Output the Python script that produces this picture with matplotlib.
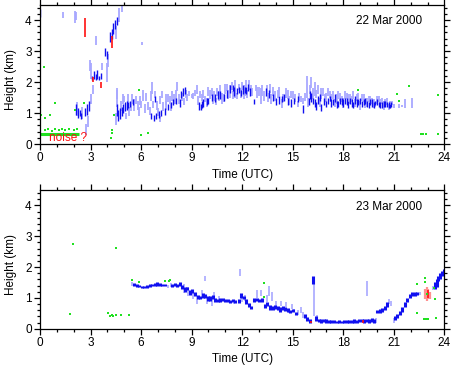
import matplotlib
matplotlib.use("Agg")
import matplotlib.pyplot as plt
from matplotlib.ticker import MultipleLocator

plt.rcParams["font.family"] = ["Liberation Sans", "DejaVu Sans"]
plt.rcParams["font.size"] = 8.5

# Cloud base streaks: (time UTC, lower km, upper km)
mar22_dark = [
    (0.02, 4.1, 4.35),
    (2.15, 0.95, 1.3), (2.25, 0.85, 1.15), (2.35, 0.9, 1.1), (2.45, 0.8, 1.0),
    (2.7, 0.9, 1.15), (2.8, 0.95, 1.3), (2.9, 1.05, 1.4),
    (3.1, 2.05, 2.2), (3.2, 2.1, 2.35), (3.3, 2.05, 2.25), (3.4, 2.1, 2.4),
    (3.5, 2.05, 2.2), (3.6, 2.1, 2.3),
    (3.85, 2.85, 3.1), (3.95, 2.75, 3.0),
    (4.15, 3.3, 3.6), (4.25, 3.4, 3.7), (4.35, 3.55, 3.9), (4.45, 3.7, 4.0),
    (4.6, 3.85, 4.1),
    (4.55, 0.9, 1.3), (4.65, 0.75, 1.1), (4.75, 0.8, 1.15), (4.85, 0.9, 1.2),
    (4.95, 1.0, 1.3), (5.05, 1.05, 1.35), (5.15, 1.1, 1.4), (5.25, 1.15, 1.35),
    (5.35, 1.2, 1.4), (5.5, 1.25, 1.45),
    (6.6, 0.8, 1.0), (6.75, 0.75, 0.95), (6.8, 1.35, 1.55), (6.9, 0.8, 1.0),
    (7.05, 0.85, 1.05), (7.2, 0.9, 1.1), (7.4, 0.95, 1.15), (7.6, 1.1, 1.3),
    (7.8, 1.15, 1.35),
    (7.9, 1.25, 1.45), (8.1, 1.3, 1.5), (8.3, 1.2, 1.45), (8.35, 1.5, 1.7),
    (8.5, 1.55, 1.8), (8.6, 1.6, 1.85),
    (9.45, 1.1, 1.35), (9.55, 1.1, 1.3), (9.6, 1.15, 1.4), (9.7, 1.2, 1.45),
    (9.9, 1.25, 1.5), (10.0, 1.3, 1.5), (10.2, 1.4, 1.6), (10.4, 1.35, 1.6),
    (10.55, 1.45, 1.7), (10.7, 1.45, 1.7), (10.9, 1.4, 1.6), (11.1, 1.5, 1.75),
    (11.3, 1.65, 1.9), (11.45, 1.7, 1.9), (11.5, 1.55, 1.85), (11.7, 1.6, 1.8),
    (11.8, 1.65, 1.85), (11.9, 1.55, 1.75), (12.05, 1.6, 1.9), (12.15, 1.65, 1.85),
    (12.2, 1.6, 1.85), (12.35, 1.7, 1.95), (12.45, 1.55, 1.8), (12.7, 1.3, 1.45),
    (13.4, 1.55, 1.8), (13.6, 1.5, 1.75), (13.8, 1.4, 1.6), (14.0, 1.25, 1.5),
    (14.2, 1.3, 1.55), (14.35, 1.35, 1.55), (14.5, 1.4, 1.6), (14.7, 1.25, 1.5),
    (14.9, 1.2, 1.45), (15.1, 1.3, 1.5), (15.3, 1.35, 1.55), (15.6, 1.0, 1.25),
    (15.95, 1.25, 1.5), (16.0, 1.45, 1.7), (16.1, 1.35, 1.65), (16.2, 1.3, 1.5),
    (16.3, 1.2, 1.45), (16.4, 1.1, 1.35), (16.5, 1.3, 1.55), (16.6, 1.4, 1.6),
    (16.7, 1.05, 1.3), (16.85, 1.25, 1.5), (17.0, 1.2, 1.4), (17.1, 1.3, 1.5),
    (17.2, 1.4, 1.55), (17.3, 1.2, 1.45), (17.4, 1.25, 1.45), (17.5, 1.35, 1.6),
    (17.6, 1.15, 1.4), (17.7, 1.2, 1.4), (17.8, 1.3, 1.5), (17.9, 1.25, 1.5),
    (18.0, 1.2, 1.45), (18.1, 1.3, 1.5), (18.2, 1.25, 1.5), (18.3, 1.15, 1.4),
    (18.4, 1.3, 1.5), (18.5, 1.2, 1.45), (18.6, 1.15, 1.35), (18.7, 1.3, 1.55),
    (18.8, 1.2, 1.45), (18.9, 1.25, 1.45), (19.0, 1.3, 1.5), (19.1, 1.2, 1.4),
    (19.2, 1.25, 1.45), (19.3, 1.3, 1.5), (19.4, 1.2, 1.4), (19.5, 1.15, 1.35),
    (19.6, 1.25, 1.45), (19.7, 1.2, 1.45), (19.8, 1.15, 1.35), (19.9, 1.25, 1.4),
    (20.0, 1.25, 1.45), (20.1, 1.2, 1.35), (20.2, 1.15, 1.35), (20.3, 1.15, 1.35),
    (20.4, 1.2, 1.4), (20.5, 1.2, 1.4), (20.6, 1.2, 1.35), (20.7, 1.15, 1.35),
    (20.8, 1.15, 1.3), (20.85, 1.2, 1.35),
]

mar22_light = [
    (1.35, 4.05, 4.25), (2.05, 3.9, 4.3), (2.15, 4.0, 4.25),
    (3.3, 3.2, 3.5), (3.05, 2.1, 2.6), (2.95, 2.35, 2.7), (3.7, 2.4, 2.6),
    (4.0, 2.0, 2.6), (4.05, 2.5, 2.9),
    (2.2, 0.9, 1.35), (2.5, 0.8, 1.2), (2.75, 0.3, 0.65), (2.85, 0.55, 0.9),
    (3.0, 1.3, 1.6), (3.15, 1.6, 1.9),
    (4.7, 3.95, 4.4), (4.85, 4.25, 4.5), (4.5, 3.4, 3.8), (6.05, 3.2, 3.3),
    (4.5, 0.6, 1.0), (4.55, 1.45, 1.8), (4.6, 1.2, 1.75), (4.8, 1.05, 1.4),
    (4.9, 1.3, 1.6), (5.0, 1.35, 1.55), (5.1, 0.8, 1.0), (5.2, 1.35, 1.6),
    (5.3, 0.9, 1.2), (5.4, 1.05, 1.3), (5.45, 1.3, 1.6), (5.6, 1.05, 1.45),
    (5.7, 1.3, 1.55), (5.8, 1.1, 1.4), (5.85, 0.9, 1.2), (5.95, 1.25, 1.55),
    (6.0, 1.15, 1.4), (6.1, 1.4, 1.75), (6.25, 1.0, 1.3), (6.3, 1.4, 1.65),
    (6.4, 1.1, 1.35), (6.5, 0.95, 1.2), (6.6, 1.4, 1.7), (6.65, 1.6, 2.0),
    (6.7, 1.15, 1.4), (6.85, 1.5, 1.7), (6.95, 1.1, 1.4), (7.0, 0.9, 1.15),
    (7.1, 1.3, 1.55), (7.15, 0.7, 0.9), (7.25, 1.5, 1.7), (7.3, 1.05, 1.35),
    (7.45, 1.1, 1.4), (7.5, 1.25, 1.6), (7.6, 1.35, 1.6), (7.7, 1.3, 1.55),
    (7.75, 1.05, 1.3), (7.85, 1.4, 1.7), (7.95, 1.3, 1.6),
    (8.0, 1.3, 1.5), (8.05, 1.45, 1.75), (8.15, 1.7, 2.0), (8.25, 1.3, 1.6),
    (8.4, 1.4, 1.65), (8.55, 1.25, 1.5), (8.65, 1.5, 1.75), (8.75, 1.4, 1.6),
    (8.85, 1.55, 1.7), (9.0, 1.5, 1.6), (9.1, 1.45, 1.65), (9.2, 1.55, 1.75),
    (9.3, 1.6, 1.9), (9.4, 1.25, 1.55), (9.5, 1.5, 1.7), (9.6, 1.4, 1.6),
    (9.7, 1.5, 1.75), (9.8, 1.35, 1.55), (9.9, 1.2, 1.5), (10.0, 1.55, 1.85),
    (10.1, 1.45, 1.75), (10.2, 1.55, 1.8), (10.25, 1.3, 1.55), (10.35, 1.4, 1.7),
    (10.45, 1.25, 1.5), (10.5, 1.55, 1.8), (10.6, 1.4, 1.7), (10.7, 1.6, 1.9),
    (10.8, 1.3, 1.65), (10.95, 1.35, 1.6), (11.0, 1.6, 1.95), (11.1, 1.7, 1.95),
    (11.15, 1.45, 1.75), (11.25, 1.5, 1.9), (11.4, 1.75, 2.0), (11.45, 1.45, 1.7),
    (11.55, 1.8, 2.05), (11.6, 1.5, 1.8), (11.7, 1.45, 1.65), (11.8, 1.75, 1.95),
    (11.9, 1.5, 1.8), (12.0, 1.75, 2.0), (12.1, 1.45, 1.7), (12.15, 1.55, 1.9),
    (12.25, 1.85, 2.05), (12.3, 1.5, 1.75), (12.4, 1.75, 2.05), (12.5, 1.6, 1.9),
    (12.6, 1.55, 1.8), (12.8, 1.7, 1.9), (12.9, 1.5, 1.85), (13.0, 1.55, 1.85),
    (13.1, 1.3, 1.8), (13.2, 1.55, 1.9), (13.3, 1.4, 1.7), (13.45, 1.6, 1.9),
    (13.55, 1.35, 1.65), (13.65, 1.65, 1.95), (13.7, 1.3, 1.6), (13.85, 1.55, 1.85),
    (13.95, 1.4, 1.7), (14.1, 1.5, 1.75), (14.2, 1.55, 1.85), (14.35, 1.15, 1.45),
    (14.45, 1.35, 1.6), (14.6, 1.5, 1.8), (14.7, 1.45, 1.75), (14.8, 1.25, 1.55),
    (14.9, 1.5, 1.7), (15.0, 1.45, 1.7), (15.15, 1.35, 1.6), (15.3, 1.2, 1.4),
    (15.4, 1.4, 1.65), (15.5, 1.35, 1.55), (15.6, 1.3, 1.5), (15.7, 1.4, 1.65),
    (15.85, 1.5, 2.2), (15.9, 1.2, 1.5), (16.0, 1.6, 1.9), (16.1, 1.8, 2.15),
    (16.2, 1.45, 1.8), (16.3, 1.55, 2.0), (16.4, 1.5, 1.75), (16.5, 1.6, 1.9),
    (16.6, 1.2, 1.5), (16.7, 1.45, 1.8), (16.8, 1.55, 1.8), (16.9, 1.35, 1.6),
    (17.0, 1.35, 1.65), (17.1, 1.55, 1.8), (17.2, 1.5, 1.7), (17.3, 1.35, 1.6),
    (17.4, 1.45, 1.7), (17.5, 1.2, 1.45), (17.6, 1.3, 1.6), (17.7, 1.45, 1.7),
    (17.8, 1.4, 1.65), (17.9, 1.35, 1.55), (18.0, 1.15, 1.5), (18.1, 1.45, 1.7),
    (18.2, 1.45, 1.65), (18.3, 1.4, 1.6), (18.4, 1.3, 1.6), (18.5, 1.35, 1.55),
    (18.6, 1.45, 1.7), (18.7, 1.2, 1.45), (18.8, 1.4, 1.6), (18.9, 1.45, 1.65),
    (19.0, 1.1, 1.4), (19.1, 1.4, 1.6), (19.2, 1.35, 1.6), (19.3, 1.15, 1.35),
    (19.4, 1.2, 1.5), (19.5, 1.35, 1.55), (19.6, 1.35, 1.55), (19.7, 1.3, 1.5),
    (19.8, 1.15, 1.45), (19.9, 1.2, 1.35), (20.0, 1.3, 1.55), (20.1, 1.35, 1.55),
    (20.2, 1.25, 1.45), (20.3, 1.3, 1.5), (20.4, 1.1, 1.4), (20.5, 1.3, 1.45),
    (20.6, 1.25, 1.5), (20.7, 1.1, 1.3), (20.8, 1.3, 1.4), (20.9, 1.25, 1.4),
    (21.0, 1.15, 1.3), (21.3, 1.15, 1.3), (21.5, 1.2, 1.25), (21.65, 1.15, 1.45),
    (22.05, 1.15, 1.5),
]

mar22_red = [(2.67, 3.45, 4.05), (3.15, 2.0, 2.15), (3.6, 1.8, 2.0), (4.25, 3.1, 3.5)]

mar22_green_t = [0.04, 0.24, 0.32, 0.57, 0.91, 2.1, 2.6, 4.4, 5.9, 18.85, 21.19,
                 21.3, 21.88, 23.62, 22.6, 22.75, 22.9, 23.62, 4.25, 4.3, 4.2,
                 6.0, 6.4, 0.3, 0.5, 0.7, 0.9, 1.1, 1.3, 1.5, 1.7, 2.0, 2.2]
mar22_green_h = [0.93, 2.49, 0.83, 0.93, 1.33, 1.1, 1.33, 0.95, 1.74, 1.74, 1.61,
                 1.38, 1.87, 1.59, 0.33, 0.32, 0.31, 0.33, 0.45, 0.35, 0.18,
                 0.3, 0.35, 0.45, 0.5, 0.42, 0.47, 0.45, 0.5, 0.44, 0.48, 0.45, 0.5]

noise_t = [0.0, 2.3]
noise_h = [0.31, 0.31]

mar23_dark = [
    (5.55, 1.38, 1.48), (5.75, 1.36, 1.44), (5.9, 1.34, 1.42), (6.05, 1.32, 1.4),
    (6.2, 1.32, 1.4), (6.35, 1.33, 1.41), (6.5, 1.35, 1.44), (6.65, 1.37, 1.46),
    (6.8, 1.38, 1.48), (6.95, 1.38, 1.5), (7.1, 1.37, 1.47), (7.25, 1.38, 1.46),
    (7.4, 1.37, 1.45),
    (7.85, 1.35, 1.45), (8.0, 1.38, 1.48), (8.15, 1.35, 1.45), (8.3, 1.4, 1.5),
    (8.45, 1.3, 1.42), (8.6, 1.2, 1.35), (8.75, 1.25, 1.35), (8.9, 1.1, 1.25),
    (9.05, 1.15, 1.3), (9.2, 1.05, 1.2), (9.35, 0.95, 1.1), (9.5, 0.95, 1.05),
    (9.65, 1.0, 1.15), (9.8, 1.0, 1.12), (9.95, 0.9, 1.05), (10.1, 0.9, 1.05),
    (10.25, 0.95, 1.1), (10.4, 0.85, 1.0), (10.55, 0.85, 0.95), (10.7, 0.88, 0.98),
    (10.85, 0.9, 1.0), (11.0, 0.85, 0.95), (11.15, 0.85, 0.95), (11.3, 0.83, 0.93),
    (11.45, 0.85, 0.95), (11.6, 0.83, 0.93),
    (11.8, 0.82, 0.95), (11.95, 1.0, 1.15), (12.1, 0.95, 1.05), (12.25, 0.8, 0.95),
    (12.4, 0.7, 0.82), (12.55, 0.65, 0.75), (12.7, 0.88, 0.98), (12.85, 0.9, 1.0),
    (13.0, 0.85, 0.95), (13.15, 0.85, 0.98), (13.35, 0.68, 0.8), (13.5, 0.72, 0.85),
    (13.65, 0.62, 0.78), (13.8, 0.6, 0.72), (13.95, 0.65, 0.78), (14.1, 0.6, 0.72),
    (14.25, 0.55, 0.7), (14.4, 0.62, 0.72), (14.55, 0.58, 0.7), (14.7, 0.55, 0.68),
    (14.85, 0.5, 0.62), (15.0, 0.55, 0.65), (15.2, 0.45, 0.55), (15.7, 0.35, 0.48),
    (15.85, 0.25, 0.38), (16.0, 0.2, 0.3), (16.2, 1.45, 1.7),
    (16.4, 0.25, 0.4), (16.55, 0.22, 0.32), (16.7, 0.2, 0.3), (16.85, 0.22, 0.32),
    (17.0, 0.2, 0.3), (17.15, 0.2, 0.28), (17.3, 0.18, 0.28), (17.45, 0.18, 0.27),
    (17.6, 0.17, 0.26), (17.75, 0.18, 0.27), (17.9, 0.18, 0.26), (18.05, 0.18, 0.27),
    (18.2, 0.19, 0.28), (18.35, 0.2, 0.28), (18.5, 0.2, 0.28), (18.65, 0.2, 0.3),
    (18.8, 0.19, 0.28), (18.95, 0.22, 0.3), (19.1, 0.22, 0.32), (19.25, 0.2, 0.3),
    (19.4, 0.22, 0.3), (19.55, 0.2, 0.3), (19.7, 0.22, 0.35), (19.85, 0.2, 0.3),
    (20.0, 0.5, 0.6), (20.15, 0.52, 0.65), (20.3, 0.55, 0.68), (20.45, 0.6, 0.72),
    (20.6, 0.7, 0.85),
    (21.05, 0.28, 0.4), (21.2, 0.35, 0.48), (21.35, 0.45, 0.58), (21.5, 0.55, 0.7),
    (21.65, 0.7, 0.85), (21.8, 0.85, 1.0), (21.95, 0.98, 1.12), (22.1, 1.05, 1.2),
    (22.25, 1.05, 1.18), (22.4, 1.08, 1.2),
    (23.45, 1.3, 1.5), (23.55, 1.35, 1.6), (23.65, 1.55, 1.7), (23.75, 1.6, 1.8),
    (23.85, 1.7, 1.88), (23.95, 1.78, 1.95),
]

mar23_light = [
    (5.45, 1.4, 1.5), (7.6, 1.32, 1.42), (7.75, 1.35, 1.48),
    (8.55, 1.15, 1.45), (8.8, 1.05, 1.35), (9.1, 0.95, 1.2), (9.3, 0.8, 1.05),
    (9.6, 1.0, 1.25), (9.8, 1.55, 1.7), (9.9, 0.8, 1.0), (10.2, 0.75, 0.95),
    (10.35, 1.0, 1.2), (10.6, 0.9, 1.05), (11.5, 0.8, 0.9),
    (11.85, 1.7, 1.95), (12.0, 0.85, 1.0), (12.15, 0.9, 1.1), (12.9, 1.0, 1.25),
    (13.1, 1.05, 1.25), (13.45, 0.85, 1.1), (13.6, 1.05, 1.4), (13.75, 0.9, 1.2),
    (14.0, 0.75, 0.9), (14.3, 0.72, 0.9), (14.6, 0.7, 0.85), (14.75, 0.5, 0.62),
    (14.95, 0.65, 0.8), (15.1, 0.55, 0.65), (15.3, 0.45, 0.6), (15.5, 0.5, 0.7),
    (15.6, 0.35, 0.55),
    (16.25, 0.4, 1.45), (16.45, 0.3, 0.45), (19.4, 1.05, 1.55), (19.95, 0.2, 0.35),
    (20.7, 0.8, 0.95), (20.85, 0.75, 0.9), (21.0, 0.2, 0.35), (22.55, 1.1, 1.2),
    (23.3, 1.25, 1.4),
]

mar23_red = [(16.1, 0.18, 0.25), (19.15, 0.2, 0.28), (23.0, 1.0, 1.25)]
mar23_pink = [(22.85, 0.95, 1.3), (22.95, 0.9, 1.35), (23.05, 0.95, 1.3), (23.15, 0.95, 1.2)]

mar23_green_t = [1.96, 4.53, 1.76, 4.05, 4.15, 4.25, 4.35, 4.5, 4.79, 5.26, 5.46,
                 5.85, 7.4, 7.7, 7.65, 13.29, 13.29, 22.4, 22.87, 22.87, 22.95,
                 23.4, 22.4, 22.8, 22.9, 23.0, 23.5, 23.45]
mar23_green_h = [2.76, 2.63, 0.49, 0.5, 0.42, 0.45, 0.42, 0.45, 0.43, 0.43, 1.58,
                 1.52, 1.56, 1.58, 1.55, 1.49, 1.04, 1.44, 1.65, 1.5, 1.12,
                 1.33, 0.52, 0.33, 0.33, 0.33, 0.35, 0.95]

DARK = "#1010f0"
LIGHT = "#a8a8ff"
RED = "#ff1010"
PINK = "#ff9090"
GREEN = "#20e020"


def draw_streaks(ax, streaks, color, lw=1.2):
    t, lo, hi = zip(*streaks)
    ax.vlines(t, lo, hi, colors=color, linewidth=lw)


def style_axes(ax, label, label_y):
    ax.set_xlim(0, 24)
    ax.set_ylim(0, 4.5)
    ax.xaxis.set_major_locator(MultipleLocator(3))
    ax.xaxis.set_minor_locator(MultipleLocator(1))
    ax.yaxis.set_major_locator(MultipleLocator(1))
    ax.yaxis.set_minor_locator(MultipleLocator(0.2))
    ax.tick_params(which="both", direction="out", top=True, right=True,
                   width=0.9, pad=2)
    ax.tick_params(which="major", length=4)
    ax.tick_params(which="minor", length=2.5)
    for s in ax.spines.values():
        s.set_linewidth(0.9)
    ax.set_xlabel("Time (UTC)", labelpad=3)
    ax.set_ylabel("Height (km)")
    ax.yaxis.set_label_coords(-0.058, label_y)
    ax.text(0.946, 0.88, label, transform=ax.transAxes, ha="right", va="center")


fig = plt.figure(figsize=(4.58, 3.67), dpi=100)
ax1 = fig.add_axes([0.0873, 0.6076, 0.883, 0.380])
ax2 = fig.add_axes([0.0873, 0.1044, 0.883, 0.378])

# 22 Mar
draw_streaks(ax1, mar22_light, LIGHT, lw=1.3)
draw_streaks(ax1, mar22_dark, DARK, lw=1.0)
draw_streaks(ax1, mar22_red, RED)
ax1.plot(noise_t, noise_h, color=GREEN, linewidth=2.2, solid_capstyle="butt")
ax1.plot(mar22_green_t, mar22_green_h, "s", color=GREEN, markersize=1.8,
         markeredgewidth=0)
ax1.text(0.53, 0.19, "noise ?", color=RED, va="center", ha="left")
style_axes(ax1, "22 Mar 2000", 0.46)

# 23 Mar
draw_streaks(ax2, mar23_light, LIGHT)
draw_streaks(ax2, mar23_dark, DARK, lw=2.2)
draw_streaks(ax2, mar23_pink, PINK, lw=1.6)
draw_streaks(ax2, mar23_red, RED)
ax2.plot(mar23_green_t, mar23_green_h, "s", color=GREEN, markersize=1.8,
         markeredgewidth=0)
style_axes(ax2, "23 Mar 2000", 0.466)

fig.savefig("out.png", dpi=100)
